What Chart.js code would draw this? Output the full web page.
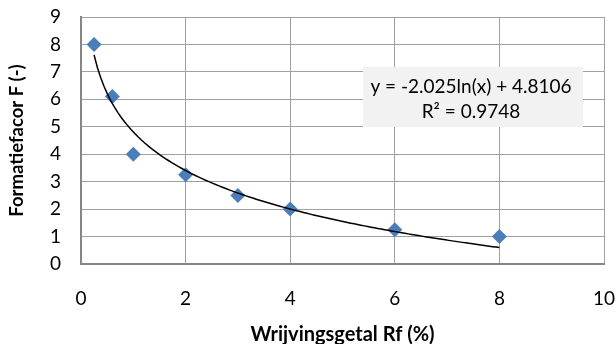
<!DOCTYPE html>
<html>
<head>
<meta charset="utf-8">
<script src="https://cdn.jsdelivr.net/npm/chart.js@4"></script>
<style>
  html, body { margin: 0; padding: 0; background: #ffffff; }
  #wrap { width: 616px; height: 344px; }
</style>
</head>
<body>
<div id="wrap"><canvas id="c" width="616" height="344"></canvas></div>
<script>
// Measured friction number (%) against formation factor
const rfValues = [0.25, 0.6, 1, 2, 3, 4, 6, 8];
const formationFactor = [8, 6.1, 4, 3.25, 2.5, 2, 1.25, 1];

// Logarithmic trend: y = a*ln(x) + b
const trendA = -2.025;
const trendB = 4.8106;
const trendR2 = 0.9748;
const trendRange = [0.25, 8];

const xTicks = [0, 2, 4, 6, 8, 10];
const yTicks = [0, 1, 2, 3, 4, 5, 6, 7, 8, 9];

const xTitle = 'Wrijvingsgetal Rf (%)';
const yTitle = 'Formatiefacor F (-)';

const FONT = 'Lato, "Liberation Sans", sans-serif';

const scatterPoints = rfValues.map((x, i) => ({ x: x, y: formationFactor[i] }));

const trendPoints = [];
const steps = 120;
for (let i = 0; i <= steps; i++) {
  const x = trendRange[0] + (trendRange[1] - trendRange[0]) * i / steps;
  trendPoints.push({ x: x, y: trendA * Math.log(x) + trendB });
}

const eqLine1 = 'y = ' + trendA.toFixed(3) + 'ln(x) + ' + trendB.toFixed(4);
const eqLine2 = 'R\u00B2 = ' + trendR2.toFixed(4);

// Equation box drawn over the plot area
const equationBox = {
  id: 'equationBox',
  afterDatasetsDraw(chart) {
    const ctx = chart.ctx;
    ctx.save();
    ctx.fillStyle = '#f2f2f2';
    ctx.fillRect(363, 67, 220, 60);
    ctx.fillStyle = '#000000';
    ctx.font = '19px ' + FONT;
    ctx.textAlign = 'center';
    ctx.textBaseline = 'middle';
    ctx.fillText(eqLine1, 471, 87);
    ctx.fillText(eqLine2, 471, 112);
    ctx.restore();
  }
};

new Chart(document.getElementById('c'), {
  type: 'scatter',
  data: {
    datasets: [
      {
        label: 'trend',
        data: trendPoints,
        showLine: true,
        borderColor: '#000000',
        borderWidth: 1.5,
        pointRadius: 0,
        fill: false,
        order: 0
      },
      {
        label: 'F',
        data: scatterPoints,
        pointStyle: 'rectRot',
        pointRadius: 7.5,
        pointBackgroundColor: '#4a7ebb',
        pointBorderColor: '#4a7ebb',
        pointBorderWidth: 0,
        order: 1
      }
    ]
  },
  plugins: [equationBox],
  options: {
    responsive: false,
    animation: false,
    events: [],
    layout: { autoPadding: false, padding: { left: 0, right: 12, top: 17, bottom: 0 } },
    plugins: {
      legend: { display: false },
      tooltip: { enabled: false }
    },
    scales: {
      x: {
        type: 'linear',
        min: 0,
        max: 10,
        afterBuildTicks: (s) => { s.ticks = xTicks.map(v => ({ value: v })); },
        afterFit: (s) => { s.height = 80; s.paddingLeft = 0; s.paddingRight = 0; },
        grid: { color: '#a0a0a0', lineWidth: 1, drawTicks: false },
        border: { color: '#868686', width: 2 },
        ticks: { color: '#000000', font: { family: FONT, size: 19 }, padding: 23, maxRotation: 0 },
        title: {
          display: true,
          text: xTitle,
          color: '#000000',
          font: { family: FONT, size: 20, weight: 'bold', lineHeight: 0.9 },
          padding: { top: 0, bottom: 0 }
        }
      },
      y: {
        type: 'linear',
        min: 0,
        max: 9,
        afterBuildTicks: (s) => { s.ticks = yTicks.map(v => ({ value: v })); },
        afterFit: (s) => { s.width = 81; s.paddingTop = 0; s.paddingBottom = 0; },
        grid: { color: '#a0a0a0', lineWidth: 1, drawTicks: false },
        border: { color: '#868686', width: 2 },
        ticks: { color: '#000000', font: { family: FONT, size: 19 }, padding: 20 },
        title: {
          display: true,
          text: yTitle,
          color: '#000000',
          font: { family: FONT, size: 18.5, weight: 'bold' },
          padding: { top: 6, bottom: 0 }
        }
      }
    }
  }
});
</script>
</body>
</html>
